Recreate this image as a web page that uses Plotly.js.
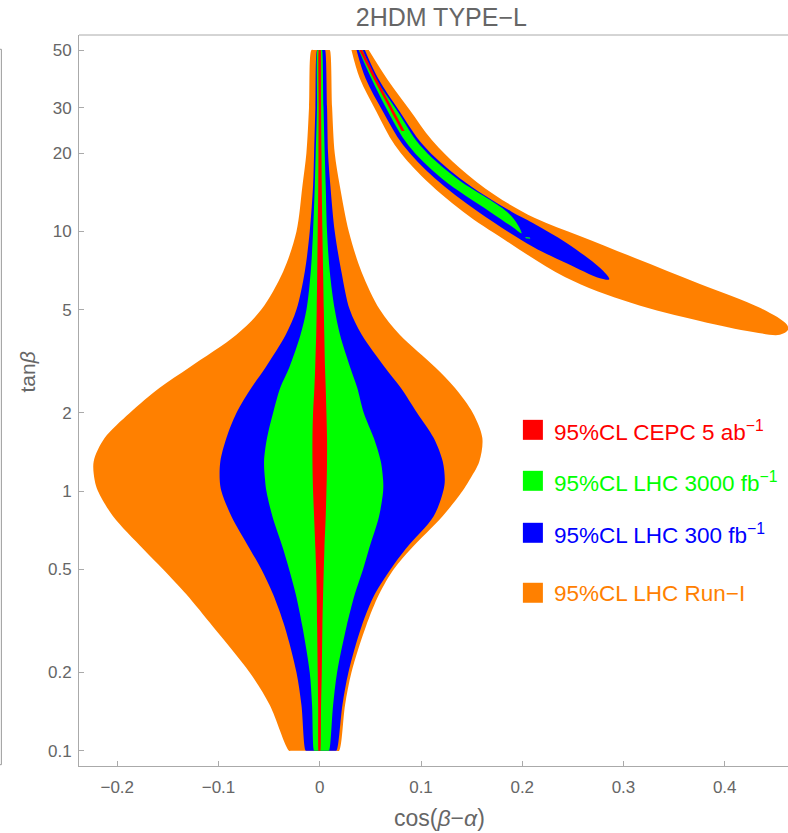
<!DOCTYPE html>
<html><head><meta charset="utf-8">
<script src="https://cdn.plot.ly/plotly-3.0.1.min.js"></script>
<style>html,body{margin:0;padding:0;background:#fff}#chart{width:788px;height:833px}</style>
</head><body><div id="chart"></div>
<script>
// ---- central band: boundaries of each region at fixed tan(beta) levels ----
const tanbLevels = [50, 30, 20, 15, 10, 7, 5, 4, 3, 2.5, 2, 1.6, 1.3, 1.1, 1, 0.8, 0.6, 0.5, 0.4, 0.3, 0.2, 0.15, 0.1];

const runILeft  = [-0.0082, -0.0106, -0.0132, -0.0171, -0.0230, -0.0362, -0.0577, -0.0823, -0.1285, -0.1581, -0.1877, -0.2125, -0.2233, -0.2223, -0.2191, -0.2042, -0.1746, -0.1548, -0.1318, -0.1054, -0.0692, -0.0494, -0.0303];
const runIRight = [0.0099, 0.0122, 0.0148, 0.0198, 0.0287, 0.0412, 0.0593, 0.0790, 0.1140, 0.1334, 0.1512, 0.1606, 0.1576, 0.1477, 0.1410, 0.1213, 0.0902, 0.0731, 0.0586, 0.0455, 0.0313, 0.0250, 0.0191];

const lhc300Left  = [-0.0026, -0.0043, -0.0056, -0.0066, -0.0099, -0.0148, -0.0230, -0.0336, -0.0534, -0.0675, -0.0823, -0.0922, -0.0982, -0.0988, -0.0972, -0.0873, -0.0692, -0.0577, -0.0461, -0.0346, -0.0230, -0.0181, -0.0138];
const lhc300Right = [0.0053, 0.0072, 0.0082, 0.0105, 0.0148, 0.0214, 0.0296, 0.0415, 0.0642, 0.0800, 0.0962, 0.1126, 0.1215, 0.1235, 0.1220, 0.1125, 0.0850, 0.0700, 0.0543, 0.0412, 0.0283, 0.0224, 0.0165];

const lhc3000Left  = [-0.0023, -0.0027, -0.0040, -0.0049, -0.0066, -0.0089, -0.0131, -0.0190, -0.0300, -0.0390, -0.0461, -0.0521, -0.0550, -0.0540, -0.0527, -0.0468, -0.0362, -0.0303, -0.0237, -0.0171, -0.0099, -0.0076, -0.0056];
const lhc3000Right = [0.0023, 0.0037, 0.0049, 0.0059, 0.0072, 0.0099, 0.0148, 0.0200, 0.0300, 0.0370, 0.0435, 0.0534, 0.0603, 0.0626, 0.0626, 0.0586, 0.0487, 0.0428, 0.0346, 0.0264, 0.0171, 0.0132, 0.0092];

const cepcLeft  = [-0.0010, -0.0011, -0.0013, -0.0015, -0.0020, -0.0025, -0.0030, -0.0035, -0.0045, -0.0053, -0.0066, -0.0072, -0.0072, -0.0069, -0.0066, -0.0056, -0.0043, -0.0036, -0.0030, -0.0026, -0.0020, -0.0016, -0.0013];
const cepcRight = [0.0010, 0.0013, 0.0017, 0.0020, 0.0026, 0.0033, 0.0040, 0.0045, 0.0052, 0.0059, 0.0066, 0.0072, 0.0072, 0.0069, 0.0066, 0.0059, 0.0046, 0.0040, 0.0033, 0.0026, 0.0020, 0.0013, 0.0007];

// ---- wrong-sign arm: closed outlines (outer edge down to the tip, then inner edge back up) ----
const armRunIX = [0.0484, 0.0672, 0.0889, 0.1107, 0.1383, 0.1729, 0.2125, 0.2569, 0.3113, 0.3755, 0.4348, 0.4615, 0.4625, 0.4545, 0.4279, 0.3755, 0.3073, 0.2421, 0.1828, 0.1416, 0.1005, 0.0741, 0.0560, 0.0395, 0.0313];
const armRunIT = [50, 38.33, 29.38, 22.51, 17.57, 13.82, 11.27, 9.61, 7.91, 6.28, 5.08, 4.37, 4.18, 4.00, 4.10, 4.52, 5.31, 6.68, 9.28, 11.92, 16.36, 21.54, 28.93, 38.9, 50];

const arm300X = [0.0445, 0.0576, 0.0791, 0.1021, 0.1383, 0.1894, 0.2105, 0.2438, 0.2767, 0.2859, 0.2767, 0.2438, 0.2105, 0.1564, 0.1136, 0.0823, 0.0625, 0.0452, 0.0363];
const arm300T = [50, 38.9, 28.93, 21.54, 16.03, 11.92, 10.79, 9.03, 7.24, 6.55, 6.61, 7.545, 8.74, 11.92, 16.03, 21.54, 28.93, 38.9, 50];

const arm3000X = [0.0425, 0.0550, 0.0771, 0.0988, 0.1351, 0.1848, 0.1957, 0.1993, 0.1917, 0.1680, 0.1203, 0.0873, 0.0675, 0.0509, 0.0385];
const arm3000T = [50, 38.9, 28.93, 21.54, 16.03, 11.92, 10.60, 9.84, 10.32, 11.92, 16.03, 21.54, 28.93, 38.9, 50];

const arm3000BlobX = [0.2030, 0.2075, 0.2080, 0.2035];
const arm3000BlobT = [9.52, 9.48, 9.38, 9.42];

const armCepcX = [0.0420, 0.0558, 0.0736, 0.0838, 0.0808, 0.0707, 0.0529, 0.0390];
const armCepcT = [50, 38.9, 28.93, 24.39, 24.39, 28.93, 38.9, 50];

// ---- labels / ticks ----
const xTicks = [-0.2, -0.1, 0, 0.1, 0.2, 0.3, 0.4];
const xTickText = ['\u22120.2', '\u22120.1', '0', '0.1', '0.2', '0.3', '0.4'];
const yTicks = [0.1, 0.2, 0.5, 1, 2, 5, 10, 20, 30, 50];
const yTickText = ['0.1', '0.2', '0.5', '1', '2', '5', '10', '20', '30', '50'];
const legendLabels = ['95%CL CEPC 5 ab<sup>\u22121</sup>', '95%CL LHC 3000 fb<sup>\u22121</sup>', '95%CL LHC 300 fb<sup>\u22121</sup>', '95%CL LHC Run\u2212I'];

const ORANGE = '#FF8000', BLUE = '#0000FF', GREEN = '#00FF00', RED = '#FF0000';
const legendColors = [RED, GREEN, BLUE, ORANGE];

// keep the flat top/bottom cuts of a smoothed outline straight: add points just inside each corner
function nearCorner(a, b, f) { return a + (b - a) * f; }
function band(L, R, T, color) {
  const n = T.length;
  const xs = [nearCorner(R[0], L[0], 0.9)].concat(L, [nearCorner(L[n - 1], R[n - 1], 0.05), nearCorner(L[n - 1], R[n - 1], 0.95)], R.slice().reverse(), [nearCorner(R[0], L[0], 0.05)]);
  const ys = [T[0]].concat(T, [T[n - 1], T[n - 1]], T.slice().reverse(), [T[0]]);
  return { type: 'scatter', mode: 'lines', x: xs, y: ys,
    fill: 'toself', fillcolor: color, line: { width: 0, color: color, shape: 'spline', smoothing: 0.9 }, hoverinfo: 'skip', showlegend: false };
}
function poly(X, T, color, smooth) {
  return { type: 'scatter', mode: 'lines', x: X, y: T, fill: 'toself', fillcolor: color,
    line: { width: 0, color: color, shape: smooth ? 'spline' : 'linear', smoothing: 1 }, hoverinfo: 'skip', showlegend: false };
}

const traces = [
  band(runILeft, runIRight, tanbLevels, ORANGE),
  poly(armRunIX, armRunIT, ORANGE, true),
  band(lhc300Left, lhc300Right, tanbLevels, BLUE),
  poly(arm300X, arm300T, BLUE, true),
  band(lhc3000Left, lhc3000Right, tanbLevels, GREEN),
  poly(arm3000X, arm3000T, GREEN, true),
  poly(arm3000BlobX, arm3000BlobT, GREEN, false),
  band(cepcLeft, cepcRight, tanbLevels, RED),
  poly(armCepcX, armCepcT, RED, false)
];

// pixel -> paper helpers for the plot box (left 79.3, right 788, top 35, bottom 766.3)
const PL = 79.3, PR = 788, PT = 35, PB = 766.3;
const px = X => (X - PL) / (PR - PL);
const py = Y => (PB - Y) / (PB - PT);

const GRAY = '#666666', AXIS = '#aaaaaa';
const FONT = 'Liberation Sans, Arial, Helvetica, sans-serif';

const shapes = [
  { type: 'line', xref: 'paper', yref: 'paper', x0: 0, x1: 1, y0: 1, y1: 1, line: { color: AXIS, width: 1 } },
  { type: 'line', xref: 'paper', yref: 'paper', x0: px(1.7), x1: px(1.7), y0: py(49.3), y1: py(765), line: { color: '#999999', width: 1 } },
  { type: 'line', xref: 'paper', yref: 'paper', x0: px(0), x1: px(1.7), y0: py(49.3), y1: py(49.3), line: { color: '#999999', width: 1 } },
  { type: 'line', xref: 'paper', yref: 'paper', x0: px(0), x1: px(1.7), y0: py(765), y1: py(765), line: { color: '#999999', width: 1 } }
];
const legendY = [430, 481, 533, 593];
const annotations = [];
legendLabels.forEach((lab, i) => {
  shapes.push({ type: 'rect', xref: 'paper', yref: 'paper', x0: px(523), x1: px(543), y0: py(legendY[i] + 10), y1: py(legendY[i] - 10),
    fillcolor: legendColors[i], line: { width: 0 } });
  annotations.push({ xref: 'paper', yref: 'paper', x: px(552), y: py(legendY[i] + 1), xanchor: 'left', yanchor: 'middle',
    text: lab, showarrow: false, font: { family: FONT, size: 22.5, color: legendColors[i] } });
});
annotations.push({ xref: 'paper', yref: 'paper', x: px(28), y: py(372), xanchor: 'center', yanchor: 'middle', textangle: -90,
  text: 'tan<i>\u03B2</i>', showarrow: false, font: { family: FONT, size: 21, color: GRAY } });
annotations.push({ xref: 'paper', yref: 'paper', x: px(440), y: py(818), xanchor: 'center', yanchor: 'middle',
  text: 'cos(<i>\u03B2</i>\u2212<i>\u03B1</i>)', showarrow: false, font: { family: FONT, size: 23, color: GRAY } });

const layout = {
  width: 788, height: 833,
  margin: { l: PL, r: 0, t: PT, b: 833 - PB, pad: 0 },
  paper_bgcolor: '#ffffff', plot_bgcolor: '#ffffff',
  title: { text: '2HDM TYPE\u2212L', font: { family: FONT, size: 25, color: GRAY },
    xref: 'paper', x: px(441.5), xanchor: 'center', yref: 'container', y: 1 - 17 / 833, yanchor: 'middle' },
  xaxis: { range: [-0.2378, 0.4625], tickvals: xTicks, ticktext: xTickText, ticks: 'inside', ticklen: 5, tickcolor: AXIS,
    showline: true, linecolor: AXIS, linewidth: 1, showgrid: false, zeroline: false, mirror: false, ticklabelstandoff: 6,
    tickfont: { family: FONT, size: 17, color: GRAY } },
  yaxis: { type: 'log', range: [-1.0592, 1.7568], tickvals: yTicks, ticktext: yTickText, ticks: 'inside', ticklen: 5, tickcolor: AXIS,
    showline: true, linecolor: AXIS, linewidth: 1, showgrid: false, zeroline: false, mirror: false, ticklabelstandoff: 3,
    tickfont: { family: FONT, size: 17, color: GRAY } },
  shapes: shapes,
  annotations: annotations,
  showlegend: false
};

Plotly.newPlot('chart', traces, layout, { displayModeBar: false, staticPlot: true });
</script></body></html>
